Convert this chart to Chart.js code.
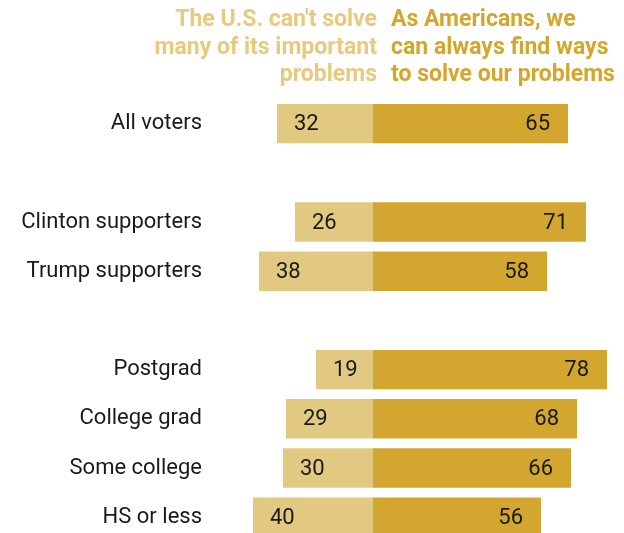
<!DOCTYPE html>
<html>
<head>
<meta charset="utf-8">
<script src="https://cdn.jsdelivr.net/npm/chart.js@4/dist/chart.umd.min.js"></script>
<style>
  html, body { margin: 0; padding: 0; background: #fff; overflow: hidden; }
  #wrap { position: relative; width: 624px; height: 563px; }
  .head {
    position: absolute; top: 5px;
    font-family: "Roboto", "Liberation Sans", sans-serif;
    font-weight: bold; font-size: 23px; line-height: 27.5px;
  }
  #headLeft { right: 247px; text-align: right; color: #e8c97e; }
  #headRight { left: 391px; text-align: left; color: #d4a72c; }
</style>
</head>
<body>
<div id="wrap">
  <div class="head" id="headLeft">The U.S. can't solve<br>many of its important<br>problems</div>
  <div class="head" id="headRight">As Americans, we<br>can always find ways<br>to solve our problems</div>
  <canvas id="chart" width="624" height="563"></canvas>
</div>
<script>
var categories = ['All voters', '', 'Clinton supporters', 'Trump supporters', '', 'Postgrad', 'College grad', 'Some college', 'HS or less'];
var cantSolve = [32, null, 26, 38, null, 19, 29, 30, 40];
var canSolve = [65, null, 71, 58, null, 78, 68, 66, 56];

var FONT = '"Roboto", "Liberation Sans", sans-serif';

var valueLabels = {
    id: 'valueLabels',
    afterDatasetsDraw: function (chart) {
        var ctx = chart.ctx;
        ctx.save();
        ctx.font = '22px ' + FONT;
        ctx.fillStyle = '#1a1a1a';
        ctx.textBaseline = 'middle';
        chart.data.datasets.forEach(function (ds, i) {
            chart.getDatasetMeta(i).data.forEach(function (bar, j) {
                var v = ds.raw[j];
                if (v === null) return;
                if (i === 0) {
                    ctx.textAlign = 'left';
                    ctx.fillText(v, bar.x + 17, bar.y + 1);
                } else {
                    ctx.textAlign = 'right';
                    ctx.fillText(v, bar.x - 18, bar.y + 1);
                }
            });
        });
        ctx.restore();
    }
};

var config = {
    type: 'bar',
    data: {
        labels: categories,
        datasets: [{
            label: "The U.S. can't solve many of its important problems",
            raw: cantSolve,
            data: cantSolve.map(function (v) { return v === null ? null : -v; }),
            backgroundColor: '#e2c982',
            borderWidth: 0
        }, {
            label: 'As Americans, we can always find ways to solve our problems',
            raw: canSolve,
            data: canSolve,
            backgroundColor: '#d3a72f',
            borderWidth: 0
        }]
    },
    options: {
        indexAxis: 'y',
        responsive: false,
        animation: false,
        layout: { padding: { top: 99, bottom: 0, left: 0, right: 0 } },
        datasets: { bar: { categoryPercentage: 0.8, barPercentage: 1 } },
        plugins: {
            legend: { display: false },
            tooltip: { enabled: false }
        },
        scales: {
            x: {
                stacked: true,
                display: false,
                min: -163 / 3,
                max: 251 / 3
            },
            y: {
                stacked: true,
                grid: { display: false, drawTicks: false },
                border: { display: false },
                ticks: {
                    color: '#1a1a1a',
                    padding: 8,
                    font: { family: FONT, size: 22 }
                },
                afterFit: function (scale) { scale.width = 210; }
            }
        }
    },
    plugins: [valueLabels]
};

var ctx = document.getElementById('chart').getContext('2d');
window.myBar = new Chart(ctx, config);
</script>
</body>
</html>
